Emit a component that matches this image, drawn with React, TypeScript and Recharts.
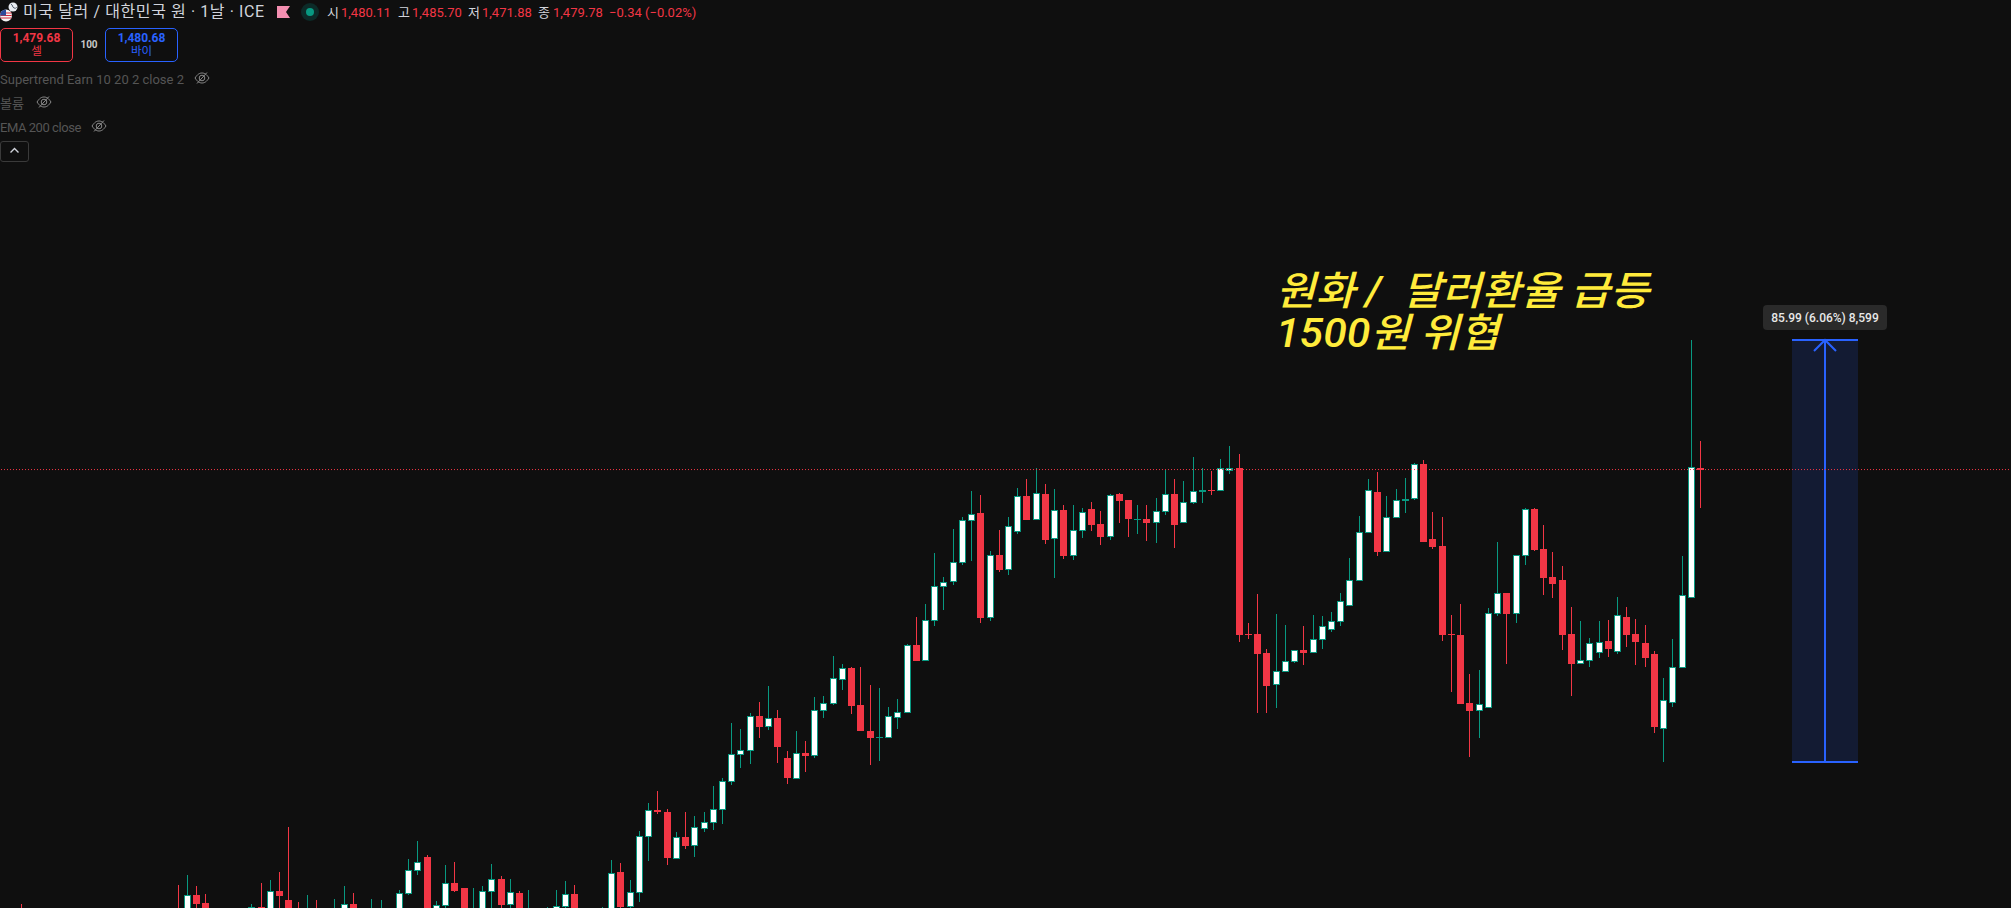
import React from "react";
import { ComposedChart, Bar, XAxis, YAxis, ReferenceLine, ReferenceArea } from "recharts";

const n = null;
const opens = [
  1388.9,n,n,n,n,n,n,n,n,n,
  n,n,n,n,n,n,n,1388.9,1388.9,1393.0,
  1391.4,n,n,n,n,1388.9,1390.6,1388.9,1393.8,1392.0,
  1388.9,1387.9,1388.9,n,1387.9,1388.9,1391.2,n,1387.9,1387.9,
  n,1388.9,1393.2,1397.9,1400.8,1388.9,1390.8,1395.5,1394.3,1387.9,
  1388.9,1393.6,1396.3,1391.0,1393.4,1387.9,n,1387.9,1387.9,1390.6,
  1393.2,n,n,1387.9,1387.9,1397.7,1390.6,1393.4,1404.9,1410.4,
  1410.0,1400.4,1404.7,1403.0,1406.5,1407.7,1410.4,1416.1,1421.6,1422.4,
  1429.4,1427.3,1429.1,1421.0,1416.7,1422.0,1421.4,1430.6,1432.0,1436.9,
  1439.2,1431.8,1426.5,1425.1,1425.1,1429.1,1430.2,1444.0,1440.8,1448.9,
  1455.9,1456.9,1460.8,1469.3,1471.0,1449.4,1462.4,1459.3,1467.1,1474.4,
  1469.5,1474.8,1465.6,1471.6,1462.2,1467.3,1471.8,1468.7,1466.1,1474.8,
  1473.6,1469.5,1469.7,1468.9,1471.2,1474.8,1468.9,1473.0,1475.2,1475.6,
  1475.4,1479.5,1480.2,1446.3,1446.3,1442.4,1435.9,1438.5,1440.6,1443.0,
  1442.4,1445.0,1447.1,1448.7,1452.0,1457.1,1466.9,1475.2,1463.0,1469.9,
  1473.4,1473.8,1481.0,1465.6,1464.2,1446.3,1446.1,1432.2,1430.6,1431.2,
  1450.4,1454.6,1450.4,1462.2,1471.8,1463.6,1457.9,1457.3,1446.3,1440.2,
  1440.8,1442.4,1444.8,1442.6,1449.7,1446.3,1444.4,1442.2,1426.9,1432.2,
  1439.3,1453.6,1480.11,
];
const highs = [
  1391.2,n,n,n,n,n,n,n,n,n,
  n,n,n,n,n,n,n,1395.1,1397.1,1394.9,
  1393.2,n,n,n,n,1391.2,1395.5,1396.1,1397.7,1406.9,
  1391.6,1393.0,1392.0,n,1392.2,1394.9,1393.4,n,1392.2,1392.0,
  n,1394.0,1400.4,1404.0,1401.2,1391.8,1399.0,1399.6,1394.3,1394.3,
  1394.9,1399.2,1396.9,1396.3,1393.8,1394.0,n,1390.6,1394.0,1395.9,
  1395.1,n,n,1390.6,1400.2,1399.4,1396.1,1406.1,1411.8,1414.2,
  1410.6,1405.9,1409.8,1409.0,1410.0,1415.3,1416.9,1428.1,1426.9,1430.2,
  1432.4,1435.7,1430.8,1422.4,1426.5,1424.4,1433.4,1433.6,1441.8,1440.2,
  1439.4,1439.4,1435.9,1435.3,1431.4,1433.0,1444.2,1449.7,1452.4,1462.8,
  1457.9,1467.7,1470.2,1475.4,1474.6,1463.2,1467.5,1470.2,1476.1,1477.9,
  1480.2,1476.9,1475.9,1472.6,1472.6,1472.0,1473.2,1471.4,1474.8,1475.0,
  1473.6,1472.6,1472.6,1474.0,1479.7,1477.9,1477.5,1482.4,1480.0,1479.5,
  1482.0,1484.6,1483.0,1448.5,1454.4,1443.2,1450.4,1448.1,1443.0,1447.9,
  1450.2,1449.8,1450.8,1454.6,1461.8,1470.4,1477.9,1479.3,1474.4,1475.9,
  1478.1,1481.2,1481.8,1471.2,1470.0,1450.0,1452.4,1438.1,1438.9,1451.6,
  1465.0,1454.6,1462.4,1472.0,1472.0,1468.5,1463.0,1460.2,1451.8,1448.9,
  1445.5,1448.9,1449.1,1453.8,1451.8,1449.3,1448.1,1442.8,1437.3,1445.2,
  1462.2,1506.2,1485.70,
];
const lows = [
  1385.9,n,n,n,n,n,n,n,n,n,
  n,n,n,n,n,n,n,1385.9,1385.9,1388.9,
  1385.9,n,n,n,n,1387.9,1385.9,1385.9,1388.9,1385.9,
  1386.9,1386.9,1386.9,n,1386.9,1386.9,1386.9,n,1386.9,1386.9,
  n,1386.9,1393.0,1397.1,1385.9,1387.9,1389.6,1393.6,1385.9,1386.9,
  1386.9,1388.9,1388.9,1388.9,1385.9,1386.9,n,1386.9,1385.9,1388.9,
  1386.9,n,n,1386.9,1385.9,1388.9,1388.9,1391.6,1400.0,1409.4,
  1399.0,1400.4,1402.4,1400.8,1405.9,1406.3,1407.5,1415.5,1418.8,1419.6,
  1424.9,1426.7,1420.0,1415.7,1416.7,1418.1,1421.0,1429.1,1431.8,1434.8,
  1430.0,1426.5,1419.4,1420.4,1425.1,1426.9,1430.2,1440.8,1440.8,1447.9,
  1451.2,1456.3,1460.4,1461.2,1448.5,1448.9,1458.9,1458.3,1466.7,1469.5,
  1469.5,1464.6,1457.7,1461.6,1461.4,1465.8,1467.3,1464.4,1465.4,1468.9,
  1466.1,1466.7,1465.2,1464.8,1470.6,1463.8,1468.9,1472.8,1473.0,1474.6,
  1475.4,1478.9,1444.6,1445.2,1430.2,1430.2,1431.2,1438.5,1440.4,1440.0,
  1442.4,1443.2,1446.7,1447.9,1452.0,1457.1,1466.9,1462.2,1463.0,1469.9,
  1471.0,1473.6,1465.0,1463.6,1444.8,1434.4,1432.0,1421.2,1424.9,1431.2,
  1449.8,1440.2,1448.5,1460.4,1463.2,1454.2,1453.6,1443.0,1433.6,1440.2,
  1439.4,1441.4,1441.6,1442.2,1443.6,1440.0,1439.5,1426.1,1420.2,1431.4,
  1439.3,1453.6,1471.88,
];
const closes = [
  1386.9,n,n,n,n,n,n,n,n,n,
  n,n,n,n,n,n,n,1386.9,1393.0,1391.2,
  1387.9,n,n,n,n,1390.6,1387.9,1393.8,1392.8,1387.9,
  1387.9,1388.9,1387.9,n,1388.9,1391.2,1388.9,n,1388.9,1388.9,
  n,1393.4,1398.1,1399.8,1387.9,1391.0,1395.5,1393.8,1387.9,1388.9,
  1393.8,1396.3,1391.0,1393.6,1387.9,1388.9,n,1388.9,1390.8,1393.2,
  1388.9,n,n,1388.9,1397.5,1390.6,1393.6,1405.1,1410.4,1409.8,
  1400.6,1404.7,1403.0,1406.9,1407.9,1410.6,1416.3,1421.8,1422.6,1429.4,
  1427.3,1429.1,1423.2,1416.9,1422.0,1421.4,1430.8,1432.2,1437.3,1439.2,
  1431.6,1426.5,1425.1,1425.3,1429.4,1430.4,1444.0,1440.8,1449.1,1456.1,
  1456.9,1461.0,1469.5,1470.8,1449.4,1462.4,1459.3,1468.3,1474.4,1469.5,
  1475.0,1465.4,1471.6,1462.2,1467.5,1471.2,1468.5,1466.1,1474.6,1473.4,
  1469.7,1469.7,1468.9,1471.4,1474.8,1468.5,1473.2,1475.4,1475.6,1475.4,
  1480.0,1480.2,1446.1,1446.1,1442.2,1435.7,1438.7,1440.8,1443.0,1442.4,
  1445.2,1447.9,1448.9,1453.0,1457.3,1467.1,1475.6,1463.0,1470.2,1473.6,
  1473.8,1481.0,1465.0,1464.0,1446.1,1446.1,1432.0,1430.6,1432.0,1450.6,
  1454.6,1450.4,1462.4,1471.8,1463.4,1457.7,1456.5,1446.1,1440.2,1441.0,
  1444.4,1444.6,1443.2,1450.0,1446.1,1444.6,1441.4,1427.3,1432.8,1439.5,
  1454.2,1480.3,1479.78,
];

const LAST_CLOSE = 1479.78;
const MEASURE_LOW = 1420.2;
const MEASURE_HIGH = 1506.2;
const MEASURE_LABEL = "85.99 (6.06%) 8,599";
const LEADING_SLOTS = 3;
const TOTAL_SLOTS = 220;
const MEASURE_START_SLOT = 195;
const MEASURE_END_SLOT = 201;

const BG = "#0f0f0f";
const RED = "#f23645";
const TEAL = "#089981";
const BLUE = "#2962ff";
const FONT = 'Roboto, "Noto Sans CJK KR", sans-serif';

type Row = { slot: number; o: number | null; h: number | null; l: number | null; c: number | null };
const rows: Row[] = Array.from({ length: TOTAL_SLOTS }, (_, slot) => {
  const i = slot - LEADING_SLOTS;
  return { slot, o: opens[i] ?? null, h: highs[i] ?? null, l: lows[i] ?? null, c: closes[i] ?? null };
});

function Candle(props: any) {
  const { x, y, width, height, payload } = props;
  const { o, h, l, c } = payload as Row;
  if (o == null || h == null || l == null || c == null || !(h > l)) return null;
  const perUnit = height / (h - l);
  const yOf = (v: number) => y + (h - v) * perUnit;
  const up = c >= o;
  const color = up ? TEAL : RED;
  const wx = Math.floor(x + width / 2) + 0.5;
  const top = Math.round(yOf(Math.max(o, c)));
  const bottom = Math.max(top + 1, Math.round(yOf(Math.min(o, c))));
  const left = wx - 3.5;
  return (
    <g shapeRendering="crispEdges">
      <line x1={wx} x2={wx} y1={Math.round(y)} y2={Math.round(y + height)} stroke={color} strokeWidth={1} />
      {up && bottom - top >= 3 ? (
        <rect x={left + 0.5} y={top + 0.5} width={6} height={bottom - top - 1} fill="#ffffff" stroke={color} strokeWidth={1} />
      ) : (
        <rect x={left} y={top} width={7} height={bottom - top} fill={color} />
      )}
    </g>
  );
}

function MeasureBox(props: any) {
  const { x, y, width, height } = props;
  // the tool's edges sit half a slot to the right of the band edges
  const halfSlot = width / (MEASURE_END_SLOT - MEASURE_START_SLOT + 1) / 2;
  const x0 = x + halfSlot;
  const cx = Math.round(x0 + width / 2);
  const top = Math.round(y);
  const bottom = Math.round(y + height);
  const left = Math.round(x0) - 1;
  const right = Math.round(x0 + width);
  return (
    <g>
      <rect x={left} y={top} width={right - left} height={bottom - top} fill="#131b33" />
      <line x1={left} x2={right} y1={top} y2={top} stroke={BLUE} strokeWidth={2} />
      <line x1={left} x2={right} y1={bottom} y2={bottom} stroke={BLUE} strokeWidth={2} />
      <line x1={cx} x2={cx} y1={top} y2={bottom} stroke={BLUE} strokeWidth={2} />
      <path d={`M${cx - 11} ${top + 11}L${cx} ${top}L${cx + 11} ${top + 11}`} fill="none" stroke={BLUE} strokeWidth={2} />
      <rect x={cx - 62} y={top - 35} width={124} height={25} rx={4} fill="#2a2a2a" />
      <text x={cx} y={top - 18} textAnchor="middle" fontFamily={FONT} fontSize={12} fontWeight={500} fill="#e8e8e8">
        {MEASURE_LABEL}
      </text>
    </g>
  );
}

function Eye({ x, y }: { x: number; y: number }) {
  return (
    <svg style={{ position: "absolute", left: x - 8, top: y - 8 }} width={16} height={16} viewBox="0 0 16 16" fill="none" stroke="#8a8a8a" strokeWidth={1}>
      <path d="M1 8C3.5 4.2 5.5 3 8 3s4.5 1.2 7 5c-2.5 3.8-4.5 5-7 5S3.5 11.8 1 8Z" />
      <circle cx={8} cy={8} r={2.8} />
      <path d="M3 13.5 13 2.5" />
    </svg>
  );
}

function T(p: { x: number; y: number; c: string; s?: number; w?: number; ls?: number; children: React.ReactNode; center?: boolean }) {
  return (
    <span
      style={{
        position: "absolute",
        left: p.x,
        top: p.y,
        color: p.c,
        fontSize: p.s ?? 13,
        fontWeight: p.w ?? 400,
        letterSpacing: p.ls ?? 0,
        lineHeight: 1,
        whiteSpace: "nowrap",
        transform: p.center ? "translate(-50%,-50%)" : "translateY(-50%)",
        fontFamily: FONT,
      }}
    >
      {p.children}
    </span>
  );
}

function OrderButton({ x, color, price, label }: { x: number; color: string; price: string; label: string }) {
  return (
    <>
      <div style={{ position: "absolute", left: x, top: 28, width: 71, height: 32, border: `1px solid ${color}`, borderRadius: 5 }} />
      <T x={x + 36.5} y={38} c={color} s={12} w={700} center>{price}</T>
      <T x={x + 36.5} y={52} c={color} s={11.5} center>{label}</T>
    </>
  );
}

export default function App() {
  return (
    <div style={{ position: "absolute", left: 0, top: 0, width: 2011, height: 908, overflow: "hidden", background: BG }}>
      <div style={{ position: "absolute", left: -11, top: 0 }}>
        <ComposedChart width={2030} height={960} data={rows} margin={{ top: 0, right: 0, bottom: 0, left: 0 }}>
          <XAxis dataKey="slot" hide type="category" />
          <YAxis hide type="number" domain={[1379.7, 1575.6]} allowDataOverflow />
          <ReferenceArea x1={MEASURE_START_SLOT} x2={MEASURE_END_SLOT} y1={MEASURE_LOW} y2={MEASURE_HIGH} shape={<MeasureBox />} />
          <Bar
            dataKey={(d: Row) => (d.h == null || d.l == null ? null : [d.l, d.h])}
            barSize={7}
            shape={<Candle />}
            isAnimationActive={false}
          />
          <ReferenceLine y={LAST_CLOSE} stroke={RED} strokeDasharray="1 2" strokeWidth={1} />
        </ComposedChart>
      </div>

      {/* symbol header */}
      <svg style={{ position: "absolute", left: 0, top: 2 }} width={20} height={22} viewBox="0 0 20 22">
        <circle cx={13} cy={5} r={4.5} fill="#e9edf2" />
        <path d="M11 2c2 1 1 3 3 4s3-1 3-1" stroke="#55606e" fill="none" />
        <circle cx={6} cy={13.5} r={6} fill="#f4f4f4" />
        <path d="M0.5 11h11M0.3 13.5h11.4M0.7 16h10.6" stroke="#d8283c" strokeWidth={1.2} />
        <path d="M0 13.5A6 6 0 0 1 6 7.5V13.5Z" fill="#2b4a9b" />
      </svg>
      <T x={23} y={12} c="#d1d4dc" s={16} ls={0.6}>미국 달러 / 대한민국 원 · 1날 · ICE</T>
      <svg style={{ position: "absolute", left: 277, top: 6 }} width={13} height={12} viewBox="0 0 13 12">
        <path d="M0 0H13L9 6L13 12H0Z" fill="#f48fb1" />
      </svg>
      <svg style={{ position: "absolute", left: 300, top: 2 }} width={20} height={20} viewBox="0 0 20 20">
        <circle cx={10} cy={10} r={9} fill="#0c2b28" />
        <circle cx={10} cy={10} r={4} fill="#089981" />
      </svg>
      <T x={327} y={12} c="#d1d4dc">시</T>
      <T x={341} y={12} c={RED}>1,480.11</T>
      <T x={398} y={12} c="#d1d4dc">고</T>
      <T x={412} y={12} c={RED}>1,485.70</T>
      <T x={468} y={12} c="#d1d4dc">저</T>
      <T x={482} y={12} c={RED}>1,471.88</T>
      <T x={538} y={12} c="#d1d4dc">종</T>
      <T x={553} y={12} c={RED}>1,479.78</T>
      <T x={609} y={12} c={RED}>−0.34 (−0.02%)</T>

      <OrderButton x={0} color={RED} price="1,479.68" label="셀" />
      <T x={89} y={44.5} c="#c9c9c9" s={10} w={700} center>100</T>
      <OrderButton x={105} color={BLUE} price="1,480.68" label="바이" />

      <T x={0} y={79} c="#555555">Supertrend Earn 10 20 2 close 2</T>
      <Eye x={202} y={78} />
      <T x={0} y={103} c="#555555">볼륨</T>
      <Eye x={44} y={102} />
      <T x={0} y={127} c="#555555" ls={-0.45}>EMA 200 close</T>
      <Eye x={99} y={126} />
      <div style={{ position: "absolute", left: 0, top: 141, width: 27, height: 19, border: "1px solid #3a3a3a", borderRadius: 3 }} />
      <svg style={{ position: "absolute", left: 9, top: 147 }} width={11} height={7} viewBox="0 0 11 7">
        <path d="M1.5 5.5 5.5 1.5 9.5 5.5" fill="none" stroke="#d1d4dc" strokeWidth={1.4} />
      </svg>

      {/* drawn annotation */}
      <div style={{ position: "absolute", left: 1276, top: 271, color: "#ffeb3b", fontFamily: FONT, fontStyle: "italic", fontWeight: 500, fontSize: 40, lineHeight: "42px", whiteSpace: "pre", transform: "scaleX(1.07)", transformOrigin: "0 0" }}>
        <div>원화 /  달러환율 급등</div>
        <div>1500원 위협</div>
      </div>
    </div>
  );
}
